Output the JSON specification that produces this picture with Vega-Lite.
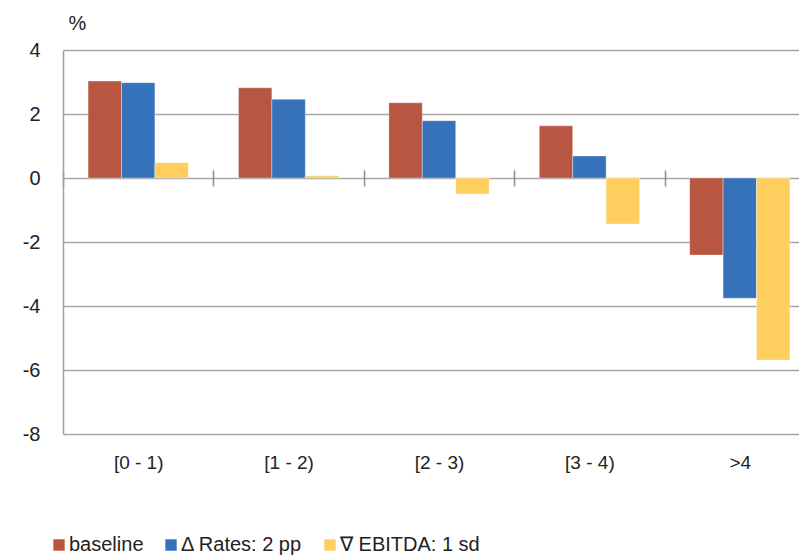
{
  "$schema": "https://vega.github.io/schema/vega-lite/v6.json",
  "width": 736,
  "height": 384,
  "autosize": {"type": "none"},
  "padding": {"left": 63, "top": 50, "right": 0, "bottom": 122},
  "background": "white",
  "data": {"values": [
    {"bucket": "[0 - 1)", "scenario": "baseline", "value": 3.03},
    {"bucket": "[0 - 1)", "scenario": "Δ Rates: 2 pp", "value": 2.98},
    {"bucket": "[0 - 1)", "scenario": "∇ EBITDA: 1 sd", "value": 0.48},
    {"bucket": "[1 - 2)", "scenario": "baseline", "value": 2.82},
    {"bucket": "[1 - 2)", "scenario": "Δ Rates: 2 pp", "value": 2.46},
    {"bucket": "[1 - 2)", "scenario": "∇ EBITDA: 1 sd", "value": 0.07},
    {"bucket": "[2 - 3)", "scenario": "baseline", "value": 2.35},
    {"bucket": "[2 - 3)", "scenario": "Δ Rates: 2 pp", "value": 1.79},
    {"bucket": "[2 - 3)", "scenario": "∇ EBITDA: 1 sd", "value": -0.5},
    {"bucket": "[3 - 4)", "scenario": "baseline", "value": 1.63},
    {"bucket": "[3 - 4)", "scenario": "Δ Rates: 2 pp", "value": 0.69},
    {"bucket": "[3 - 4)", "scenario": "∇ EBITDA: 1 sd", "value": -1.44},
    {"bucket": ">4", "scenario": "baseline", "value": -2.41},
    {"bucket": ">4", "scenario": "Δ Rates: 2 pp", "value": -3.76},
    {"bucket": ">4", "scenario": "∇ EBITDA: 1 sd", "value": -5.69}
  ]},
  "mark": {"type": "bar", "stroke": "white", "strokeWidth": 0.6, "strokeOpacity": 0.6},
  "encoding": {
    "x": {
      "field": "bucket", "type": "nominal",
      "sort": ["[0 - 1)", "[1 - 2)", "[2 - 3)", "[3 - 4)", ">4"],
      "scale": {"range": [0, 752], "paddingInner": 0, "paddingOuter": 0},
      "axis": {
        "title": null, "orient": "bottom", "offset": -264, "domain": false,
        "ticks": true, "tickBand": "extent", "tickSize": 16, "tickColor": "#8c8c8c", "tickWidth": 1.5,
        "labelAngle": 0, "labelBaseline": "middle", "labelPadding": 276, "labelFlush": false,
        "labelFont": "Liberation Sans", "labelFontSize": 19, "labelColor": "#222222", "grid": false
      }
    },
    "xOffset": {
      "field": "scenario", "type": "nominal",
      "sort": ["baseline", "Δ Rates: 2 pp", "∇ EBITDA: 1 sd"],
      "scale": {"paddingInner": 0, "paddingOuter": 0.75}
    },
    "y": {
      "field": "value", "type": "quantitative",
      "scale": {"domain": [-8, 4], "nice": false, "zero": false},
      "axis": {
        "title": "%", "titleAngle": 0, "titleAlign": "left", "titleBaseline": "alphabetic",
        "titleX": 5, "titleY": -21, "titleFont": "Liberation Sans", "titleFontSize": 20,
        "titleFontWeight": "normal", "titleColor": "#222222",
        "values": [-8, -6, -4, -2, 0, 2, 4],
        "labelExpr": "'' + datum.value",
        "ticks": false, "labelPadding": 23, "labelFont": "Liberation Sans", "labelFontSize": 20,
        "labelColor": "#222222",
        "domain": true, "domainColor": "#a0a0a0", "domainWidth": 1.5,
        "grid": true, "gridColor": "#a6a6a6", "gridWidth": 1.5
      }
    },
    "color": {
      "field": "scenario", "type": "nominal",
      "scale": {
        "domain": ["baseline", "Δ Rates: 2 pp", "∇ EBITDA: 1 sd"],
        "range": ["#b85642", "#3672b9", "#fecf5f"]
      },
      "legend": {
        "title": null, "orient": "none", "direction": "horizontal",
        "legendX": -14, "legendY": 485,
        "symbolType": "square", "symbolSize": 130, "symbolStrokeWidth": 0,
        "labelFont": "Liberation Sans", "labelFontSize": 20, "labelColor": "#222222",
        "labelOffset": 0, "columnPadding": 17
      }
    }
  },
  "config": {"view": {"stroke": null}}
}
